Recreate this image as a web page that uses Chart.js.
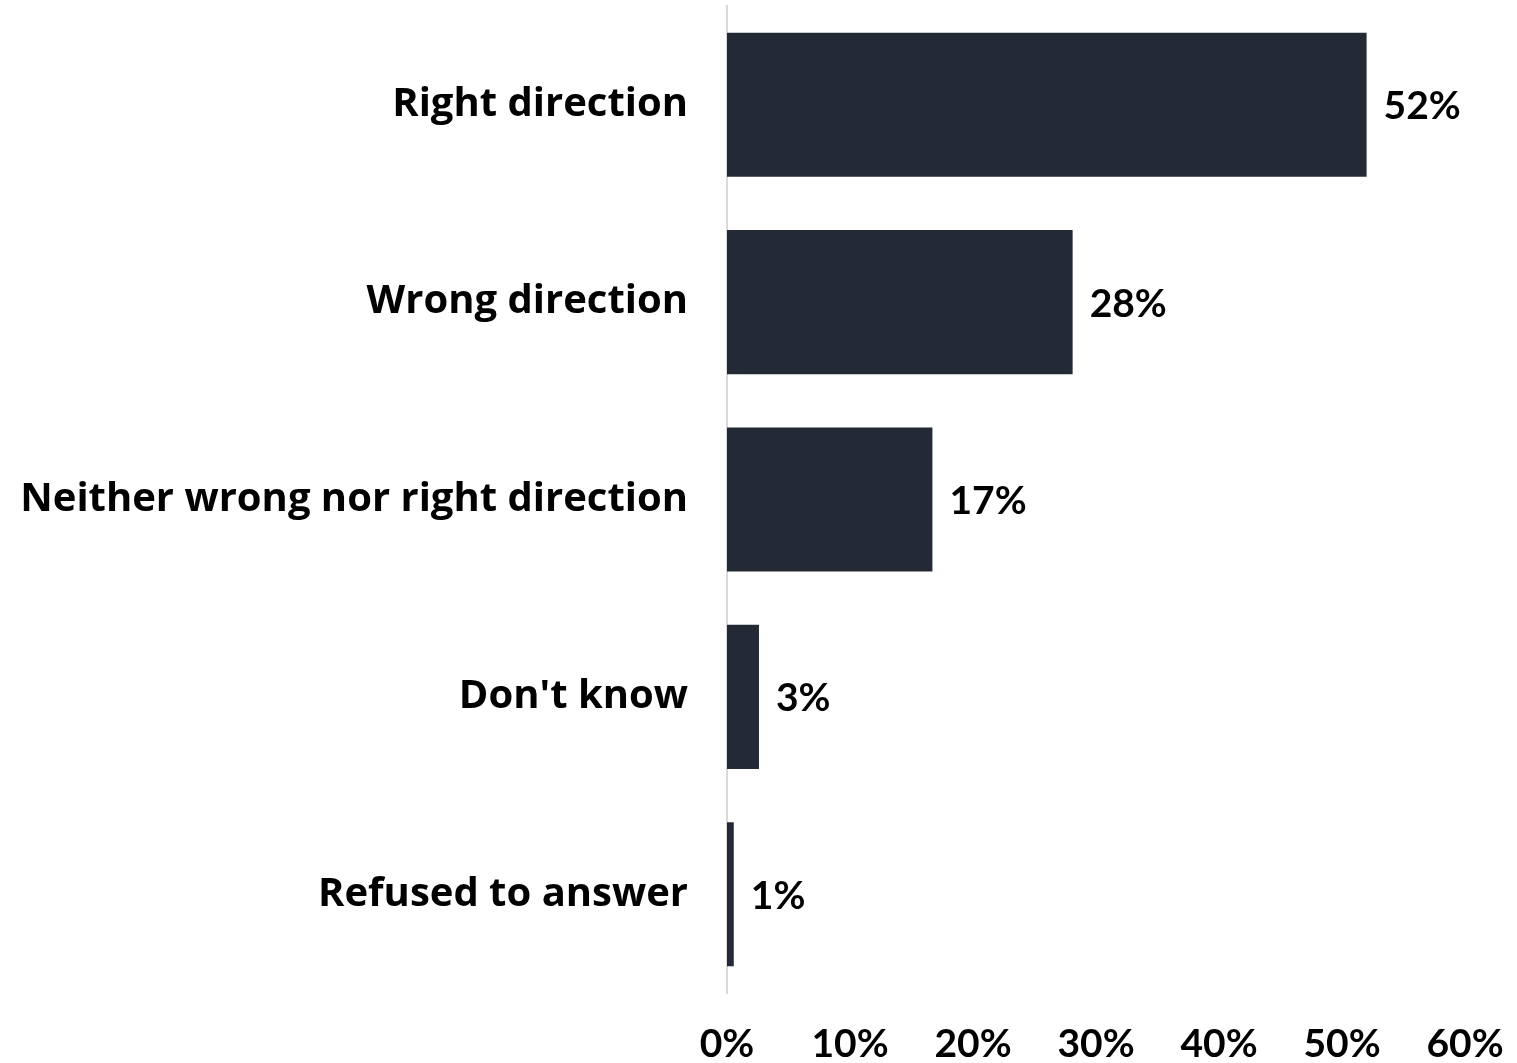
<!DOCTYPE html>
<html>
<head>
<meta charset="utf-8">
<script src="https://cdn.jsdelivr.net/npm/chart.js@4"></script>
<style>
    body { margin: 0; background: #fff; }
    #wrap { width: 1517px; height: 1063px; position: relative; }
</style>
</head>
<body>
<div id="wrap"><canvas id="chart"></canvas></div>
<script>
const categories = [
    "Right direction",
    "Wrong direction",
    "Neither wrong nor right direction",
    "Don't know",
    "Refused to answer"
];
const shares = [52.0, 28.1, 16.7, 2.6, 0.55];
const shareLabels = ["52%", "28%", "17%", "3%", "1%"];
const tickValues = [0, 10, 20, 30, 40, 50, 60];

const LABEL_FONT = "'Open Sans', Lato, sans-serif";
const NUM_FONT = "Lato, 'Open Sans', sans-serif";
const BAR_COLOR = "#242a35";

const valueLabelPlugin = {
    id: "valueLabels",
    afterDatasetsDraw(chart) {
        const ctx = chart.ctx;
        const meta = chart.getDatasetMeta(0);
        ctx.save();
        ctx.font = "bold 39px " + NUM_FONT;
        ctx.fillStyle = "#000";
        ctx.textAlign = "left";
        ctx.textBaseline = "middle";
        meta.data.forEach((bar, i) => {
            ctx.fillText(shareLabels[i], bar.x + 17, bar.y + 2);
        });
        ctx.restore();
    }
};

document.addEventListener("DOMContentLoaded", () => {
    const canvas = document.getElementById("chart");

    new Chart(canvas.getContext("2d"), {
        type: "bar",
        data: {
            labels: categories,
            datasets: [{
                data: shares,
                backgroundColor: BAR_COLOR,
                barPercentage: 0.73,
                categoryPercentage: 1
            }]
        },
        options: {
            indexAxis: "y",
            responsive: true,
            maintainAspectRatio: false,
            animation: false,
            layout: {
                padding: { top: 6, right: 52, left: 0, bottom: 0 }
            },
            plugins: {
                legend: { display: false },
                tooltip: { enabled: false }
            },
            scales: {
                x: {
                    min: 0,
                    max: 60,
                    afterBuildTicks(scale) {
                        scale.ticks = tickValues.map(v => ({ value: v }));
                    },
                    afterFit(scale) {
                        scale.height = 70;
                        scale.paddingLeft = 0;
                        scale.paddingRight = 0;
                    },
                    grid: { display: false, drawTicks: false },
                    border: { display: false },
                    ticks: {
                        padding: 28,
                        maxRotation: 0,
                        color: "#000",
                        font: { family: NUM_FONT, size: 39, weight: "bold" },
                        callback: v => v + "%"
                    }
                },
                y: {
                    afterFit(scale) {
                        scale.width = 727;
                        scale.paddingTop = 0;
                        scale.paddingBottom = 0;
                    },
                    grid: { display: false, drawTicks: false },
                    border: { display: true, color: "#d9d9d9", width: 2 },
                    ticks: {
                        padding: 39,
                        color: "#000",
                        font: { family: LABEL_FONT, size: 40, weight: "bold" }
                    }
                }
            }
        },
        plugins: [valueLabelPlugin]
    });
});
</script>
</body>
</html>
